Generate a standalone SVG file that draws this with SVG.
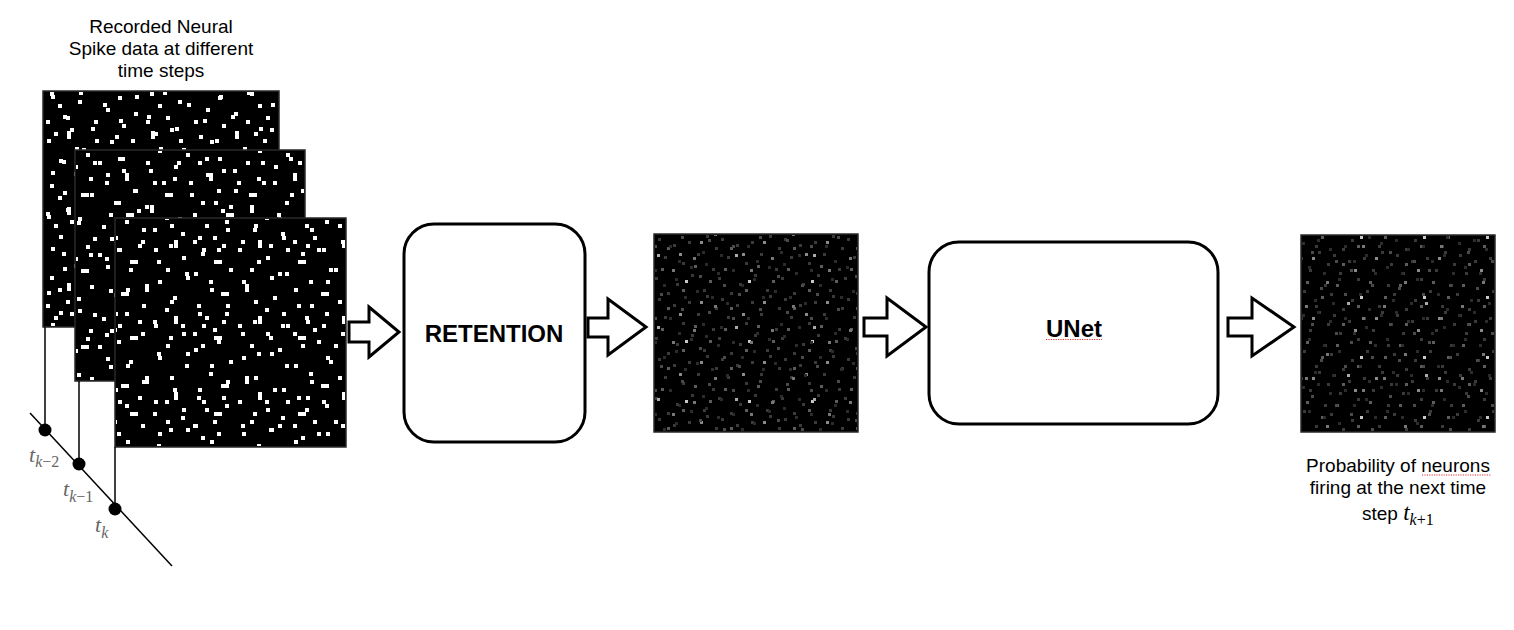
<svg xmlns="http://www.w3.org/2000/svg" width="1514" height="630" viewBox="0 0 1514 630">
<style>
.lbl{font-family:"Liberation Sans",Arial,Helvetica,sans-serif;font-size:19px;fill:#000;text-anchor:middle}
.bold{font-family:"Liberation Sans",Arial,Helvetica,sans-serif;font-size:24px;font-weight:bold;fill:#000;text-anchor:middle}
.serif{font-family:"Liberation Serif","Times New Roman",serif}
.it{font-style:italic}
.tl{fill:#666;font-size:22px}
.box{fill:#fff;stroke:#000;stroke-width:3}
.arr{fill:#fff;stroke:#000;stroke-width:3;stroke-linejoin:miter}
.ln{stroke:#000;stroke-width:1.5;fill:none}
.frame{fill:#000;stroke:#2a2a2a;stroke-width:1.5}
.sq{stroke:#e03030;stroke-width:1.2;stroke-dasharray:1.2 1.2;fill:none}
</style>
<defs>
<pattern id="spA" patternUnits="userSpaceOnUse" width="84" height="76">
<path fill="#fff" d="M8 4h4v4h-4zM36 0h4v4h-4zM60 12h4v4h-4zM76 28h4v4h-4zM20 24h4v4h-4zM48 36h4v4h-4zM4 48h4v4h-4zM32 56h4v4h-4zM64 60h8v4h-8zM16 68h4v4h-4zM44 72h4v4h-4zM52 48h4v4h-4zM24 40h4v8h-4zM72 44h4v4h-4z"/>
</pattern>
<pattern id="spB" patternUnits="userSpaceOnUse" width="100" height="92">
<path fill="#fff" d="M0 8h4v4h-4zM24 0h4v4h-4zM52 4h4v4h-4zM84 12h4v4h-4zM12 28h4v4h-4zM40 20h4v4h-4zM68 32h4v4h-4zM92 40h4v4h-4zM28 44h4v8h-4zM56 56h4v4h-4zM80 64h4v4h-4zM8 72h4v4h-4zM36 80h4v4h-4zM64 84h4v4h-4zM96 88h4v4h-4zM4 52h8v4h-8zM48 68h4v4h-4zM76 0h4v4h-4zM88 76h4v4h-4z"/>
</pattern>
<pattern id="a1" href="#spA" x="43" y="91"/>
<pattern id="b1" href="#spB" x="70" y="120"/>
<pattern id="a2" href="#spA" x="101" y="133"/>
<pattern id="b2" href="#spB" x="22" y="161"/>
<pattern id="a3" href="#spA" x="150" y="200"/>
<pattern id="b3" href="#spB" x="117" y="240"/>
<pattern id="grC" patternUnits="userSpaceOnUse" width="63" height="60">
<path fill="#3a3a3a" d="M3 3h3v3h-3zM18 9h3v3h-3zM33 6h3v3h-3zM51 0h3v3h-3zM9 21h3v3h-3zM27 27h3v3h-3zM42 18h3v3h-3zM57 33h3v3h-3zM0 42h3v3h-3zM21 48h3v3h-3zM36 39h3v3h-3zM48 54h3v3h-3zM12 57h3v3h-3zM60 12h3v3h-3z"/>
<path fill="#5c5c5c" d="M12 12h3v3h-3zM39 30h3v3h-3zM6 33h3v3h-3zM54 45h3v3h-3zM27 54h3v3h-3z"/>
<path fill="#8a8a8a" d="M24 18h3v3h-3zM45 6h3v3h-3z"/>
<path fill="#c8c8c8" d="M30 45h3v3h-3z"/>
</pattern>
<pattern id="grD" patternUnits="userSpaceOnUse" width="78" height="72">
<path fill="#2c2c2c" d="M0 6h3v3h-3zM15 3h3v3h-3zM27 12h3v3h-3zM42 9h3v3h-3zM66 0h3v3h-3zM51 24h3v3h-3zM6 30h3v3h-3zM21 36h3v3h-3zM36 42h3v3h-3zM72 36h3v3h-3zM57 57h3v3h-3zM12 63h3v3h-3zM30 66h3v3h-3zM63 18h3v3h-3z"/>
<path fill="#4a4a4a" d="M9 15h3v3h-3zM33 24h3v3h-3zM48 33h3v3h-3zM69 48h3v3h-3zM18 51h3v3h-3zM42 57h3v3h-3z"/>
<path fill="#777" d="M24 45h3v3h-3zM60 9h3v3h-3zM3 69h3v3h-3z"/>
<path fill="#aaa" d="M45 66h3v3h-3z"/>
</pattern>
<pattern id="c1" href="#grC" x="655" y="235"/>
<pattern id="d1" href="#grD" x="690" y="260"/>
<pattern id="c2" href="#grC" x="1330" y="251"/>
<pattern id="d2" href="#grD" x="1302" y="236"/>
</defs>
<rect width="1514" height="630" fill="#fff"/>

<g id="title">
<text class="lbl" x="161" y="33">Recorded Neural</text>
<text class="lbl" x="161" y="55">Spike data at different</text>
<text class="lbl" x="161" y="77">time steps</text>
</g>

<g id="spike1">
<rect class="frame" x="43" y="91" width="236" height="236"/>
<rect x="44" y="92" width="234" height="234" fill="url(#a1)"/>
<rect x="44" y="92" width="234" height="234" fill="url(#b1)"/>
</g>
<g id="spike2">
<rect class="frame" x="75" y="150" width="230" height="231"/>
<rect x="76" y="151" width="228" height="229" fill="url(#a2)"/>
<rect x="76" y="151" width="228" height="229" fill="url(#b2)"/>
</g>
<g id="spike3">
<rect class="frame" x="115" y="218" width="231" height="229"/>
<rect x="116" y="219" width="229" height="227" fill="url(#a3)"/>
<rect x="116" y="219" width="229" height="227" fill="url(#b3)"/>
</g>

<g id="connectors">
<line class="ln" x1="45" y1="327" x2="45" y2="430"/>
<line class="ln" x1="79" y1="381" x2="79" y2="464"/>
<line class="ln" x1="115" y1="447" x2="115" y2="509"/>
<line class="ln" x1="30" y1="413" x2="172" y2="566"/>
<polygon class="arr" points="349,322 369,322 369,307 399,332 369,357 369,342 349,342"/>
<polygon class="arr" points="588,318 608,318 608,299 646,327 608,355 608,337 588,337"/>
<polygon class="arr" points="864,318 887,318 887,298 926,327 887,356 887,336 864,336"/>
<polygon class="arr" points="1228,318 1252,318 1252,298 1294,327 1252,356 1252,336 1228,336"/>
</g>

<g id="timeline">
<circle cx="45" cy="430" r="6.5" fill="#000"/>
<circle cx="79" cy="464" r="6.5" fill="#000"/>
<circle cx="115" cy="509" r="6.5" fill="#000"/>
<text class="serif tl" x="29" y="462"><tspan class="it">t</tspan><tspan font-size="16" dy="5"><tspan class="it">k</tspan>−2</tspan></text>
<text class="serif tl" x="63" y="496"><tspan class="it">t</tspan><tspan font-size="16" dy="6"><tspan class="it">k</tspan>−1</tspan></text>
<text class="serif tl" x="95" y="532"><tspan class="it">t</tspan><tspan class="it" font-size="16" dy="6">k</tspan></text>
</g>

<g id="retention">
<rect class="box" x="404" y="224" width="181" height="218" rx="30"/>
<text class="bold" x="494" y="342">RETENTION</text>
</g>

<g id="retention-output">
<rect class="frame" x="654" y="234" width="204" height="198"/>
<rect x="655" y="235" width="202" height="196" fill="url(#c1)"/>
<rect x="655" y="235" width="202" height="196" fill="url(#d1)"/>
</g>

<g id="unet">
<rect class="box" x="929" y="242" width="289" height="182" rx="30"/>
<text class="bold" x="1074" y="337">UNet</text>
<line class="sq" x1="1046" y1="339.5" x2="1102" y2="339.5"/>
</g>

<g id="prediction">
<rect class="frame" x="1301" y="235" width="194" height="197"/>
<rect x="1302" y="236" width="192" height="195" fill="url(#c2)"/>
<rect x="1302" y="236" width="192" height="195" fill="url(#d2)"/>
</g>

<g id="caption">
<text class="lbl" x="1398" y="472">Probability of neurons</text>
<line class="sq" x1="1422" y1="475" x2="1491" y2="475"/>
<text class="lbl" x="1398" y="494">firing at the next time</text>
<text class="lbl" x="1362" y="520" style="text-anchor:start">step <tspan class="serif it" font-size="23">t</tspan><tspan class="serif" font-size="16" dy="5"><tspan class="it">k</tspan>+1</tspan></text>
</g>
</svg>
